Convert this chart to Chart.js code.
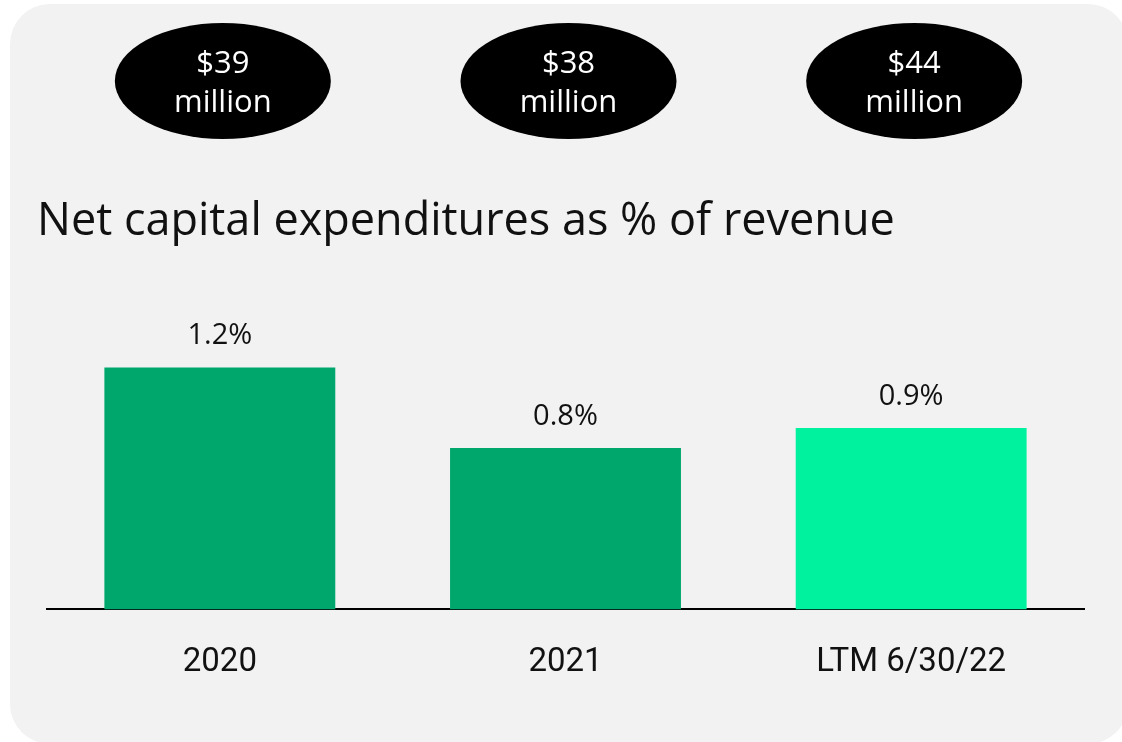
<!DOCTYPE html>
<html>
<head>
<meta charset="utf-8">
<script src="https://cdn.jsdelivr.net/npm/chart.js@4"></script>
<style>
  html, body { margin: 0; padding: 0; background: #ffffff; }
  body { width: 1122px; height: 742px; position: relative; overflow: hidden; }
  .panel {
    position: absolute; left: 10px; top: 4px; width: 1118px; height: 740px;
    background: #f2f2f2; border-radius: 40px;
  }
  .wrap { position: absolute; left: 0; top: 0; width: 1122px; height: 742px; }
</style>
</head>
<body>
<div class="panel"></div>
<div class="wrap"><canvas id="capexChart"></canvas></div>
<script>
/* Net capex as % of revenue */

const periods = ["2020", "2021", "LTM 6/30/22"];
const capexPct = [1.2, 0.8, 0.9];
const capexMillions = [39, 38, 44];
const barColors = ["#00a76c", "#00a76c", "#00f29f"];

const titleText = "Net capital expenditures as % of revenue";

const headerPlugin = {
    id: "header",
    afterDraw(chart) {
        const ctx = chart.ctx;
        const bars = chart.getDatasetMeta(0).data;

        ctx.save();

        // black ovals with the dollar amounts
        bars.forEach((bar, i) => {
            const cx = bar.x + 3;
            ctx.beginPath();
            ctx.ellipse(cx, 81, 108, 58, 0, 0, Math.PI * 2);
            ctx.fillStyle = "#000000";
            ctx.fill();

            ctx.fillStyle = "#ffffff";
            ctx.font = "31px 'Open Sans'";
            ctx.textAlign = "center";
            ctx.textBaseline = "alphabetic";
            ctx.fillText("$" + capexMillions[i], cx, 73);
            ctx.fillText("million", cx, 112);
        });

        // heading
        ctx.fillStyle = "#111111";
        ctx.font = "45px 'Open Sans'";
        ctx.textAlign = "left";
        ctx.textBaseline = "alphabetic";
        ctx.fillText(titleText, 37, 235);

        // value labels above the bars
        ctx.font = "29px 'Open Sans'";
        ctx.textAlign = "center";
        bars.forEach((bar, i) => {
            ctx.fillText(capexPct[i].toFixed(1) + "%", bar.x, bar.y - 23);
        });

        ctx.restore();
    }
};

new Chart(document.getElementById("capexChart"), {

    type: "bar",

    data: {
        labels: periods,
        datasets: [{
            data: capexPct,
            backgroundColor: barColors,
            borderWidth: 0,
            categoryPercentage: 1,
            barPercentage: 0.668
        }]
    },

    options: {
        responsive: true,
        maintainAspectRatio: false,
        animation: false,
        layout: {
            padding: { left: 47, right: 38, top: 307, bottom: 33 }
        },
        scales: {
            x: {
                grid: { display: false },
                border: { display: true, color: "#000000", width: 2 },
                ticks: {
                    color: "#111111",
                    padding: 26,
                    font: { family: "Roboto", size: 33 }
                }
            },
            y: {
                display: false,
                min: 0,
                max: 1.5
            }
        },
        plugins: {
            legend: { display: false },
            tooltip: { enabled: false }
        }
    },

    plugins: [headerPlugin]

});
</script>
</body>
</html>
